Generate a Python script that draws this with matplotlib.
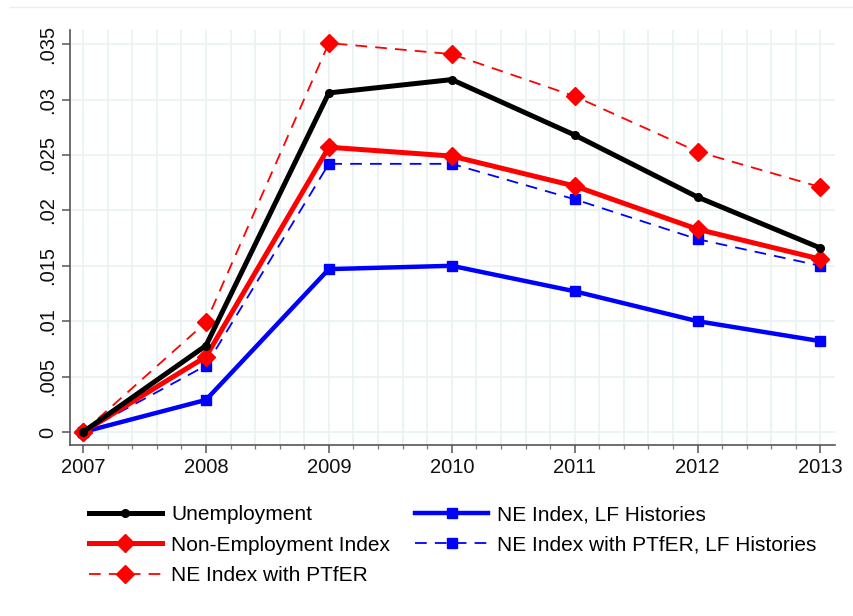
import matplotlib
matplotlib.use("Agg")
import matplotlib.pyplot as plt
from matplotlib.ticker import MultipleLocator
from matplotlib.lines import Line2D

years = [2007, 2008, 2009, 2010, 2011, 2012, 2013]
unemployment = [0.0, 0.0078, 0.0306, 0.0318, 0.0268, 0.0212, 0.0166]
ne_index = [0.0, 0.0068, 0.0257, 0.0249, 0.0222, 0.0183, 0.0156]
ne_ptfer = [0.0, 0.0099, 0.0351, 0.0341, 0.0303, 0.0253, 0.0221]
ne_lf = [0.0, 0.0029, 0.0147, 0.0150, 0.0127, 0.0100, 0.0082]
ne_ptfer_lf = [0.0, 0.0060, 0.0242, 0.0242, 0.0210, 0.0174, 0.0150]

yticks = [0, 0.005, 0.01, 0.015, 0.02, 0.025, 0.03, 0.035]
ytick_labels = ["0", ".005", ".01", ".015", ".02", ".025", ".03", ".035"]
labels = ["Unemployment", "Non-Employment Index", "NE Index with PTfER",
          "NE Index, LF Histories", "NE Index with PTfER, LF Histories"]

plt.rcParams['font.family'] = ['Liberation Sans', 'DejaVu Sans']

fig = plt.figure(figsize=(8.54, 6.16), dpi=100)
ax = fig.add_axes([0.082, 0.2776, 0.896, 0.6734])

ax.set_xlim(2006.894, 2013.12)
ax.set_ylim(-0.00117, 0.03626)

ax.xaxis.set_minor_locator(MultipleLocator(0.2))
ax.set_xticks(years)
ax.set_yticks(yticks)
ax.set_yticklabels(ytick_labels, rotation=90, va='center')

gridc = '#eaf2f3'
ax.grid(True, which='both', axis='x', color=gridc, lw=1.3, zorder=0)
ax.grid(True, which='major', axis='y', color=gridc, lw=1.3, zorder=0)
ax.set_axisbelow(True)

for s in ['top', 'right']:
    ax.spines[s].set_visible(False)
for s in ['left', 'bottom']:
    ax.spines[s].set_color('#555555')
    ax.spines[s].set_linewidth(1.2)

ax.tick_params(axis='both', which='major', length=6, width=1.1, color='#555555',
               labelsize=14.5, labelcolor='#111111')
ax.tick_params(axis='y', which='major', pad=3)
ax.tick_params(axis='x', which='minor', length=3, width=0.9, color='#777777')

dash = (0, (6.5, 4.5))
h_lf, = ax.plot(years, ne_lf, color='#0000ff', lw=3.2, marker='s', ms=7, zorder=3)
h_plf, = ax.plot(years, ne_ptfer_lf, color='#0000ff', lw=1.3, ls=dash, marker='s', ms=7, zorder=3)
h_ptf, = ax.plot(years, ne_ptfer, color='#ff0000', lw=1.3, ls=dash, marker='D', ms=9.5, zorder=4)
h_ne, = ax.plot(years, ne_index, color='#ff0000', lw=3.6, marker='D', ms=9.5, zorder=5)
h_u, = ax.plot(years, unemployment, color='#000000', lw=3.6, marker='o', ms=5.5, zorder=6)

leg = fig.legend([h_u, h_ne, h_ptf, h_lf, h_plf], labels, ncol=2,
                 loc='upper left', bbox_to_anchor=(0.082, 0.210), frameon=False,
                 fontsize=15, handlelength=3.5, handletextpad=0.45,
                 columnspacing=1.2, labelspacing=0.54, borderpad=0.4)

fig.add_artist(Line2D([0.012, 1.0], [0.989, 0.989], color='#eeeeee', lw=1))

fig.savefig("out.png", dpi=100)
